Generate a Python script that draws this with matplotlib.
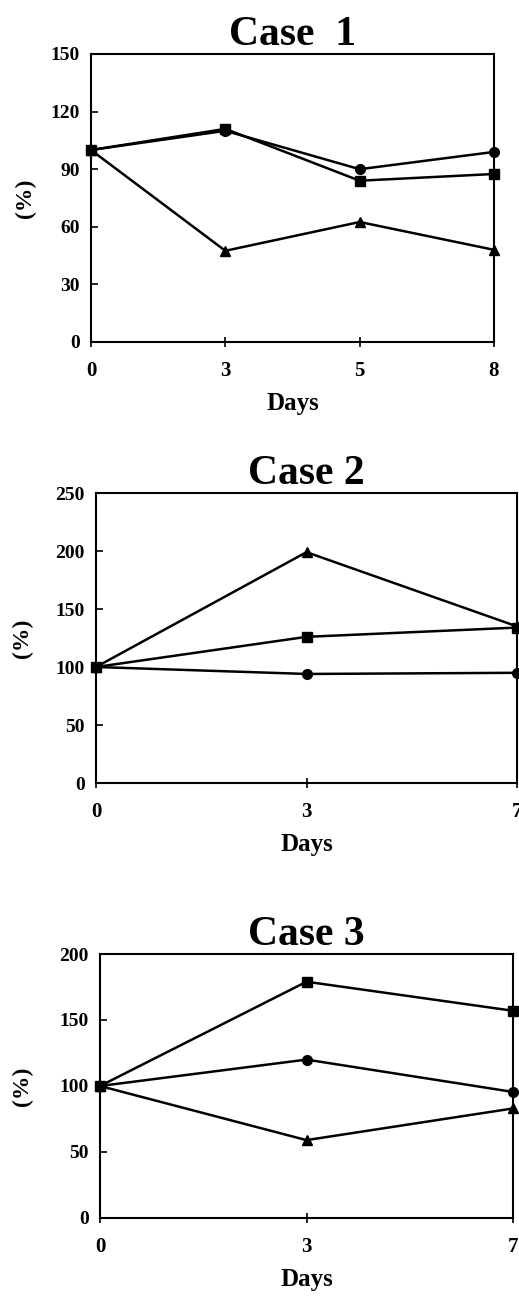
import matplotlib
matplotlib.use("Agg")
import matplotlib.pyplot as plt

plt.rcParams['font.family'] = ['Liberation Serif', 'DejaVu Serif']
plt.rcParams['font.weight'] = 'bold'

## DATOS

days1 = ["0", "3", "5", "8"]
circle1 = [100, 110, 90, 99]
square1 = [100, 111, 84, 87.5]
triangle1 = [100, 47.5, 62.5, 48]

days2 = ["0", "3", "7"]
circle2 = [100, 94, 95]
square2 = [100, 126, 134]
triangle2 = [100, 199, 135]

days3 = ["0", "3", "7"]
circle3 = [100, 120, 95.5]
square3 = [100, 179, 157]
triangle3 = [100, 59, 83]

titles = ["Case  1", "Case 2", "Case 3"]
yticks = [[0, 30, 60, 90, 120, 150], [0, 50, 100, 150, 200, 250], [0, 50, 100, 150, 200]]

##################

W, H = 519, 1300
fig = plt.figure(figsize=(W/100, H/100), dpi=100)

# caja de cada panel en pixeles: izquierda, arriba, derecha, abajo
boxes = [(91, 54, 494, 342), (96, 493, 517, 783), (100, 954, 513, 1218)]
ylab_x = [36, 33, 33]            # borde derecho (pixeles) de la etiqueta (%)

datos = [(days1, circle1, square1, triangle1),
         (days2, circle2, square2, triangle2),
         (days3, circle3, square3, triangle3)]

for n, (l, t, r, b) in enumerate(boxes):
    ax = fig.add_axes([l/W, 1 - b/H, (r-l)/W, (b-t)/H])
    days, circ, sq, tri = datos[n]
    x = list(range(len(days)))

    for serie, m, ms in [(circ, 'o', 7), (sq, 's', 7), (tri, '^', 7.5)]:
        ax.plot(x, serie, color='black', lw=1.8, marker=m, ms=ms, clip_on=False, zorder=3)

    ax.set_xlim(0, len(days)-1)
    ax.set_ylim(0, yticks[n][-1])
    ax.set_xticks(x)
    ax.set_xticklabels(days)
    ax.set_yticks(yticks[n])
    ax.tick_params(axis='y', direction='in', length=5, width=1.2, labelsize=14, pad=8)
    ax.tick_params(axis='x', direction='inout', length=7, width=1.2, labelsize=15, pad=10)
    for lab in ax.get_xticklabels() + ax.get_yticklabels():
        lab.set_fontweight('bold')
    for s in ax.spines.values():
        s.set_linewidth(1.5)

    ax.set_title(titles[n], fontsize=30, fontweight='bold', pad=6)
    ax.set_xlabel("Days", fontsize=18, fontweight='bold', labelpad=8)
    ax.set_ylabel("(%)", fontsize=17, fontweight='bold')
    ax.yaxis.set_label_coords((ylab_x[n] - l)/(r - l), 0.5)

fig.savefig("out.png", dpi=100)
